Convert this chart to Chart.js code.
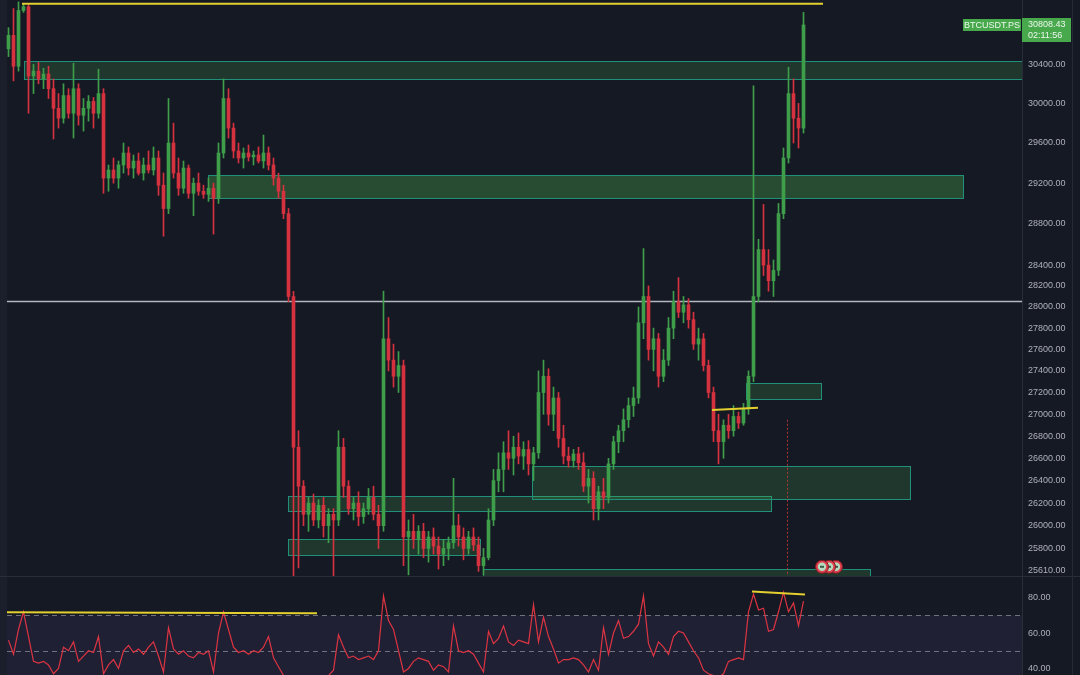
<!DOCTYPE html>
<html><head><meta charset="utf-8">
<script src="https://cdn.jsdelivr.net/npm/chart.js@4.4.0/dist/chart.umd.min.js"></script>
<style>
html,body{margin:0;padding:0;background:#151924;overflow:hidden;}
#wrap{position:relative;width:1080px;height:675px;background:#151924;}
#main{position:absolute;left:0;top:0;}
#rsi{position:absolute;left:0;top:576px;}
</style></head><body>
<div id="wrap"><canvas id="main" width="1080" height="576"></canvas><canvas id="rsi" width="1080" height="99"></canvas></div>
<script>
// ---- DATA ----
const symbol = "BTCUSDT.PS";
const countdown = "02:11:56";
// candles: [open, high, low, close]
const candles = [
[30560,30780,30480,30700],[30700,30980,30230,30380],[30380,31050,30330,30960],[30960,31030,30940,31000],[31000,31020,29900,30280],
[30280,30400,30100,30330],[30330,30420,30200,30250],[30250,30360,30150,30300],[30300,30380,30050,30150],[30150,30250,29640,29950],
[29950,30100,29750,29850],[29850,30200,29800,30080],[30080,30150,29850,29900],[29900,30410,29650,30150],[30150,30200,29780,29880],
[29880,30050,29720,29950],[29950,30080,29820,30020],[30020,30060,29750,29900],[29900,30350,29850,30100],[30100,30150,29100,29250],
[29250,29380,29120,29330],[29330,29450,29200,29250],[29250,29420,29150,29380],[29380,29600,29300,29500],[29500,29560,29280,29350],
[29350,29480,29250,29420],[29420,29500,29280,29300],[29300,29450,29230,29380],[29380,29520,29300,29330],[29330,29560,29280,29450],
[29450,29520,29080,29180],[29180,29300,28680,28950],[28950,30050,28900,29600],[29600,29800,29250,29300],[29300,29450,29080,29150],
[29150,29420,29100,29350],[29350,29380,29050,29100],[29100,29250,28880,29200],[29200,29300,29080,29120],[29120,29180,29050,29090],
[29090,29250,29020,29150],[29150,29200,28700,29050],[29050,29600,29000,29500],[29500,30250,29450,30050],[30050,30150,29650,29750],
[29750,29800,29450,29520],[29520,29600,29400,29450],[29450,29550,29350,29500],[29500,29580,29420,29460],[29460,29520,29380,29480],
[29480,29560,29400,29420],[29420,29680,29350,29500],[29500,29560,29330,29380],[29380,29450,29180,29250],[29250,29300,29050,29120],
[29120,29180,28850,28900],[28900,28950,28050,28100],[28100,28150,25560,26700],[26700,26850,25630,26350],[26350,26400,26000,26100],
[26100,26250,25950,26200],[26200,26280,26000,26050],[26050,26230,25980,26180],[26180,26250,25900,26000],[26000,26150,25850,26100],
[26100,26150,25560,26050],[26050,26850,26000,26700],[26700,26780,26250,26350],[26350,26400,26100,26150],[26150,26250,26050,26200],
[26200,26300,26000,26080],[26080,26200,26020,26150],[26150,26330,26100,26250],[26250,26350,26050,26100],[26100,26180,25800,26000],
[26000,28150,25950,27700],[27700,27900,27400,27500],[27500,27650,27250,27350],[27350,27580,27200,27450],[27450,27500,25650,25900],
[25900,26050,25570,25950],[25950,26100,25800,25880],[25880,26000,25750,25950],[25950,26020,25720,25800],[25800,25950,25680,25900],
[25900,25980,25750,25820],[25820,25900,25620,25750],[25750,25880,25650,25800],[25800,25900,25700,25850],[25850,26420,25800,26000],
[26000,26100,25820,25900],[25900,25980,25700,25800],[25800,25950,25750,25900],[25900,25980,25780,25830],[25830,25900,25600,25650],
[25650,25800,25570,25720],[25720,26150,25700,26050],[26050,26500,26000,26400],[26400,26650,26300,26500],[26500,26750,26300,26650],
[26650,26850,26500,26600],[26600,26800,26450,26700],[26700,26830,26550,26620],[26620,26750,26500,26680],[26680,26760,26450,26550],
[26550,26700,26400,26650],[26650,27400,26600,27200],[27200,27500,27000,27350],[27350,27420,26900,27000],[27000,27250,26850,27150],
[27150,27200,26700,26780],[26780,26900,26550,26620],[26620,26700,26520,26580],[26580,26680,26520,26640],[26640,26700,26500,26560],
[26560,26650,26300,26350],[26350,26500,26200,26420],[26420,26480,26050,26150],[26150,26350,26050,26300],[26300,26420,26150,26250],
[26250,26600,26200,26550],[26550,26800,26500,26750],[26750,26900,26650,26850],[26850,27050,26750,26950],[26950,27150,26880,27080],
[27080,27250,26980,27150],[27150,28000,27100,27850],[27850,28560,27700,28100],[28100,28200,27500,27600],[27600,27800,27400,27700],
[27700,27750,27250,27350],[27350,27600,27300,27500],[27500,27900,27450,27800],[27800,28150,27700,28050],[28050,28280,27900,27950],
[27950,28100,27850,28020],[28020,28080,27800,27880],[27880,27950,27600,27650],[27650,27800,27500,27700],[27700,27750,27400,27450],
[27450,27500,27150,27200],[27200,27250,26750,26850],[26850,27000,26550,26750],[26750,26950,26600,26900],[26900,27000,26780,26850],
[26850,27080,26800,26980],[26980,27020,26870,26920],[26920,27100,26900,27050],[27050,27400,27000,27350],[27350,30180,27300,28100],
[28100,28650,28050,28550],[28550,28990,28300,28400],[28400,28550,28150,28250],[28250,28450,28100,28350],[28350,29000,28300,28900],
[28900,29550,28850,29450],[29450,30370,29400,30100],[30100,30250,29600,29850],[29850,30000,29550,29750],[29750,30940,29700,30808.43]
];
const rsiValues = [56,48,62,72,58,44,43,44,42,37, 40,52,50,55,44,47,50,49,58,37, 42,45,40,50,53,49,51,48,52,55,
 47,38,63,51,48,50,47,46,49,48, 50,38,60,72,62,52,49,50,48,50, 49,52,58,46,41,36,33,30,35,33,
 34,32,35,33,36,39,59,52,46,47, 45,46,47,45,50,81,67,62,50,38, 40,44,46,45,44,39,42,41,38,64,
 50,49,50,48,43,38,61,54,57,64, 55,53,56,55,54,76,55,69,58,51, 43,45,45,46,45,42,38,45,39,63,
 48,60,67,57,58,61,65,81,54,47, 55,52,48,58,61,60,55,50,46,39, 37,36,35,37,44,45,46,45,72,82,
 73,74,61,62,72,83,72,77,64,78];
const priceTicks = [30400,30000,29600,29200,28800,28400,28200,28000,27800,27600,27400,27200,27000,26800,26600,26400,26200,26000,25800,25610];
const rsiTicks = [80,60,40];
const rsiLevels = [70,50];
// demand zones: bar-index span and price span
const zoneFrom = [3.1, 39.9, 55.9, 55.9, 104.7, 147.5, 94.9];
const zoneTo   = [null, 190.9, 152.5, 94.3, 180.3, 162.5, 172.3];
const zoneHigh = [30430, 29280, 26260, 25880, 26530, 27290, 25620];
const zoneLow  = [30250, 29050, 26130, 25740, 26240, 27140, 25400];
const zoneStrong = [false, true, false, false, false, false, false];
const horizLevel = 28060;
const topLine = {from:2.7, to:162.9, price:31030};
const smallLine = {from:140.7, to:149.9, p1:27040, p2:27060};
const vLine = {at:155.7, top:26950};
const markerIdx = [162.7, 164.1, 165.5];
const markerPrice = 25640;
const rsiLines = [{x1:-0.3,y1:71.7,x2:61.7,y2:71.2},{x1:148.7,y1:83.4,x2:159.3,y2:81.7}];

// ---- LAYOUT CONSTANTS ----
const BG = '#151924', AXIS_W = 58;
const X_MIN = -1.7, X_MAX = 202.7;
const UP = '#3f9e49', DOWN = '#d5323f';
const FONT = '"Liberation Sans", Arial, sans-serif';
Chart.defaults.animation = false;

const isUp = i => candles[i][3] >= candles[i][0];
const colorFn = ctx => isUp(ctx.dataIndex) ? UP : DOWN;

const fitAxis = s => { s.width = AXIS_W; s.paddingTop = 0; s.paddingBottom = 0; };

const mainOverlay = {
  id: 'mainOverlay',
  beforeDraw(chart) {
    const c = chart.ctx; c.save(); c.fillStyle = BG; c.fillRect(0,0,chart.width,chart.height); c.restore();
  },
  beforeDatasetsDraw(chart) {
    const {ctx, chartArea: a, scales: {x, y}} = chart;
    ctx.save();
    ctx.fillStyle = '#1b1f2b'; ctx.fillRect(0, 0, 7, chart.height);
    ctx.beginPath(); ctx.rect(a.left, a.top, a.right - a.left, a.bottom - a.top); ctx.clip();
    for (let k = 0; k < zoneFrom.length; k++) {
      const x0 = Math.round(x.getPixelForValue(zoneFrom[k]));
      const x1 = zoneTo[k] == null ? a.right + 2 : Math.round(x.getPixelForValue(zoneTo[k]));
      const y0 = Math.round(y.getPixelForValue(zoneHigh[k]));
      const y1 = Math.round(y.getPixelForValue(zoneLow[k]));
      ctx.fillStyle = zoneStrong[k] ? 'rgba(76,175,80,0.34)' : 'rgba(76,175,80,0.2)';
      ctx.fillRect(x0, y0, x1 - x0, y1 - y0);
      ctx.strokeStyle = '#21907a'; ctx.lineWidth = 1;
      ctx.strokeRect(x0 + 0.5, y0 + 0.5, x1 - x0, y1 - y0);
    }
    const gy = Math.round(y.getPixelForValue(horizLevel)) + 0.5;
    ctx.strokeStyle = '#b4b7bf'; ctx.lineWidth = 1.5;
    ctx.beginPath(); ctx.moveTo(7, gy); ctx.lineTo(a.right, gy); ctx.stroke();
    ctx.restore();
  },
  afterDatasetsDraw(chart) {
    const {ctx, chartArea: a, scales: {x, y}} = chart;
    ctx.save();
    ctx.beginPath(); ctx.rect(a.left, a.top, a.right - a.left, a.bottom - a.top); ctx.clip();
    ctx.strokeStyle = '#e3cf2e'; ctx.lineWidth = 2;
    let ty = y.getPixelForValue(topLine.price);
    ctx.beginPath(); ctx.moveTo(x.getPixelForValue(topLine.from), ty); ctx.lineTo(x.getPixelForValue(topLine.to), ty); ctx.stroke();
    ctx.beginPath(); ctx.moveTo(x.getPixelForValue(smallLine.from), y.getPixelForValue(smallLine.p1));
    ctx.lineTo(x.getPixelForValue(smallLine.to), y.getPixelForValue(smallLine.p2)); ctx.stroke();
    const vx = Math.round(x.getPixelForValue(vLine.at)) + 0.5;
    ctx.strokeStyle = 'rgba(229,57,53,0.75)'; ctx.lineWidth = 1; ctx.setLineDash([2,2]);
    ctx.beginPath(); ctx.moveTo(vx, y.getPixelForValue(vLine.top)); ctx.lineTo(vx, a.bottom); ctx.stroke();
    ctx.setLineDash([]);
    const my = y.getPixelForValue(markerPrice);
    markerIdx.slice().reverse().forEach(mi => {
      const mx = x.getPixelForValue(mi);
      ctx.beginPath(); ctx.arc(mx, my, 6.5, 0, Math.PI*2); ctx.fillStyle = '#e0404d'; ctx.fill();
      ctx.lineWidth = 1; ctx.strokeStyle = '#7a1c24'; ctx.stroke();
      ctx.beginPath(); ctx.arc(mx, my, 4.2, 0, Math.PI*2); ctx.fillStyle = '#b5dcc0'; ctx.fill();
      ctx.fillStyle = '#3d5a46'; ctx.fillRect(mx - 2, my - 1, 4, 2);
    });
    ctx.restore();
  },
  afterDraw(chart) {
    const {ctx, chartArea: a, scales: {y}} = chart;
    ctx.save();
    ctx.strokeStyle = '#262a36'; ctx.lineWidth = 1;
    ctx.beginPath(); ctx.moveTo(1072.5, 0); ctx.lineTo(1072.5, chart.height); ctx.stroke();
    const last = candles[candles.length - 1][3];
    const ly = Math.round(y.getPixelForValue(last));
    ctx.fillStyle = '#47a84c';
    ctx.fillRect(a.right, ly - 7, 49, 24);
    ctx.fillRect(963, ly - 6, 58, 12);
    ctx.fillStyle = '#eef7ee'; ctx.font = '9px ' + FONT; ctx.textBaseline = 'middle';
    ctx.textAlign = 'left';
    ctx.fillText(last.toFixed(2), 1028, ly);
    ctx.fillText(countdown, 1028, ly + 11);
    ctx.textAlign = 'center';
    ctx.fillText(symbol, 992, ly + 0.5);
    ctx.restore();
  }
};

new Chart(document.getElementById('main'), {
  type: 'bar',
  data: {
    datasets: [
      { data: candles.map((c, i) => ({x: i, y: [c[2], c[1]]})), barThickness: 1, backgroundColor: colorFn, grouped: false, order: 2, borderWidth: 0 },
      { data: candles.map((c, i) => ({x: i, y: [Math.min(c[0], c[3]), Math.max(c[0], c[3])]})), barThickness: 3, minBarLength: 1, backgroundColor: colorFn, grouped: false, order: 1, borderWidth: 0 }
    ]
  },
  options: {
    responsive: false, devicePixelRatio: 1,
    layout: { padding: 0 },
    plugins: { legend: { display: false }, tooltip: { enabled: false } },
    scales: {
      x: { type: 'linear', min: X_MIN, max: X_MAX, offset: false, display: false },
      y: {
        type: 'logarithmic', position: 'right', min: 25560, max: 31070, bounds: 'data',
        afterFit: fitAxis,
        afterBuildTicks: s => { s.ticks = priceTicks.map(v => ({value: v})); },
        grid: { display: false, drawTicks: false },
        border: { display: true, color: '#2a2e39' },
        ticks: { autoSkip: false, padding: 6, color: '#aeb1b9', font: { family: FONT, size: 9 }, callback: v => Number(v).toFixed(2) }
      }
    }
  },
  plugins: [mainOverlay]
});

const rsiOverlay = {
  id: 'rsiOverlay',
  beforeDraw(chart) {
    const c = chart.ctx; c.save(); c.fillStyle = BG; c.fillRect(0,0,chart.width,chart.height); c.restore();
  },
  beforeDatasetsDraw(chart) {
    const {ctx, chartArea: a, scales: {y}} = chart;
    ctx.save();
    ctx.fillStyle = '#1b1f2b'; ctx.fillRect(0, 0, 7, chart.height);
    ctx.beginPath(); ctx.rect(a.left, a.top, a.right - a.left, a.bottom - a.top); ctx.clip();
    const y70 = y.getPixelForValue(70), y30 = y.getPixelForValue(30);
    ctx.fillStyle = 'rgba(126,87,194,0.11)';
    ctx.fillRect(7, y70, a.right - 7, y30 - y70);
    ctx.strokeStyle = '#6f727c'; ctx.lineWidth = 1; ctx.setLineDash([5,4]);
    rsiLevels.forEach(l => {
      const ly = Math.round(y.getPixelForValue(l)) + 0.5;
      ctx.beginPath(); ctx.moveTo(7, ly); ctx.lineTo(a.right, ly); ctx.stroke();
    });
    ctx.restore();
  },
  afterDatasetsDraw(chart) {
    const {ctx, chartArea: a, scales: {x, y}} = chart;
    ctx.save();
    ctx.beginPath(); ctx.rect(a.left, a.top, a.right - a.left, a.bottom - a.top); ctx.clip();
    ctx.strokeStyle = '#e3cf2e'; ctx.lineWidth = 2;
    rsiLines.forEach(l => {
      ctx.beginPath(); ctx.moveTo(x.getPixelForValue(l.x1), y.getPixelForValue(l.y1));
      ctx.lineTo(x.getPixelForValue(l.x2), y.getPixelForValue(l.y2)); ctx.stroke();
    });
    ctx.restore();
  },
  afterDraw(chart) {
    const ctx = chart.ctx;
    ctx.save();
    ctx.strokeStyle = '#2a2e39'; ctx.lineWidth = 1;
    ctx.beginPath(); ctx.moveTo(0, 0.5); ctx.lineTo(chart.width, 0.5); ctx.stroke();
    ctx.strokeStyle = '#262a36';
    ctx.beginPath(); ctx.moveTo(1072.5, 0); ctx.lineTo(1072.5, chart.height); ctx.stroke();
    ctx.restore();
  }
};

new Chart(document.getElementById('rsi'), {
  type: 'line',
  data: {
    datasets: [{ data: rsiValues.map((v, i) => ({x: i, y: v})), borderColor: '#dd3442', borderWidth: 1.2, pointRadius: 0, tension: 0, fill: false }]
  },
  options: {
    responsive: false, devicePixelRatio: 1,
    layout: { padding: 0 },
    plugins: { legend: { display: false }, tooltip: { enabled: false } },
    scales: {
      x: { type: 'linear', min: X_MIN, max: X_MAX, offset: false, display: false },
      y: {
        type: 'linear', position: 'right', min: 36.3, max: 92.2, bounds: 'data',
        afterFit: fitAxis,
        afterBuildTicks: s => { s.ticks = rsiTicks.map(v => ({value: v})); },
        grid: { display: false, drawTicks: false },
        border: { display: true, color: '#2a2e39' },
        ticks: { autoSkip: false, padding: 6, color: '#aeb1b9', font: { family: FONT, size: 9 }, callback: v => Number(v).toFixed(2) }
      }
    }
  },
  plugins: [rsiOverlay]
});
</script>
</body></html>
